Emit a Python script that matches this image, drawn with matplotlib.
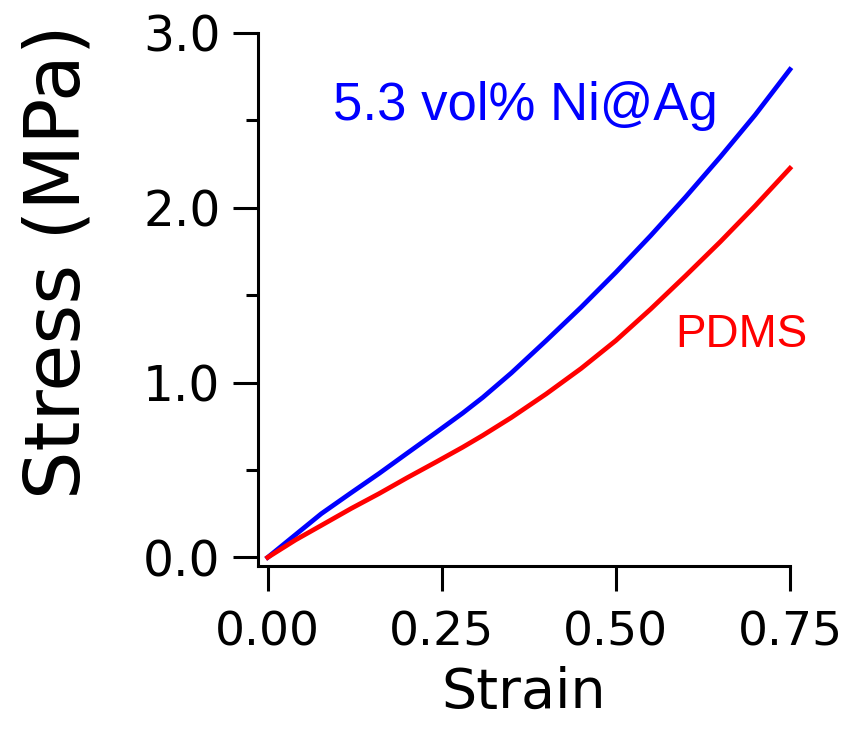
import numpy as np
import matplotlib.pyplot as plt
from matplotlib.ticker import MultipleLocator

# Stress-strain curves
strain = [0.0, 0.04, 0.077, 0.12, 0.16, 0.2, 0.242, 0.28, 0.309, 0.35, 0.4,
          0.45, 0.5, 0.55, 0.6, 0.65, 0.7, 0.75]
stress_ni = [0.0, 0.13, 0.25, 0.37, 0.48, 0.595, 0.715, 0.825, 0.915, 1.055, 1.24,
             1.43, 1.63, 1.84, 2.06, 2.29, 2.53, 2.79]
stress_pdms = [0.0, 0.10, 0.183, 0.28, 0.365, 0.455, 0.546, 0.63, 0.698, 0.80,
               0.935, 1.08, 1.24, 1.42, 1.61, 1.805, 2.01, 2.225]

xticks = [0.0, 0.25, 0.5, 0.75]
xtick_labels = ['0.00', '0.25', '0.50', '0.75']
yticks = [0.0, 1.0, 2.0, 3.0]
ytick_labels = ['0.0', '1.0', '2.0', '3.0']

blue = '#0000ff'
red = '#ff0000'

fig = plt.figure(figsize=(8.54, 7.44), dpi=100)
ax = fig.add_axes([0.302, 0.239, 0.623, 0.717])

ax.plot(strain, stress_ni, color=blue, lw=3.4, clip_on=False)
ax.plot(strain, stress_pdms, color=red, lw=3.4, clip_on=False)

ax.set_xlim(-0.014, 0.75)
ax.set_ylim(-0.05, 3.0)

for s in ['top', 'right']:
    ax.spines[s].set_visible(False)
for s in ['left', 'bottom']:
    ax.spines[s].set_linewidth(2.2)

ax.set_xticks(xticks)
ax.set_xticklabels(xtick_labels)
ax.set_yticks(yticks)
ax.set_yticklabels(ytick_labels)
ax.yaxis.set_minor_locator(MultipleLocator(0.5))
ax.tick_params(axis='both', which='major', direction='out', length=18, width=2.2,
               labelsize=34)
ax.tick_params(axis='y', which='major', pad=9, labelsize=35)
ax.tick_params(axis='x', which='major', pad=14)
ax.tick_params(axis='y', which='minor', direction='out', length=8.5, width=2.2)

ax.set_xlabel('Strain', fontsize=40)
ax.xaxis.set_label_coords(0.5, -0.1875)
ax.set_ylabel('Stress (MPa)', fontsize=55)
ax.yaxis.set_label_coords(-0.306, 0.57)

ax.text(0.094, 2.58, '5.3 vol% Ni@Ag', color=blue, fontsize=38,
        family='Liberation Sans', va='center', ha='left')
ax.text(0.775, 1.27, 'PDMS', color=red, fontsize=33,
        family='Liberation Sans', va='center', ha='right')

fig.savefig('out.png', dpi=100)
